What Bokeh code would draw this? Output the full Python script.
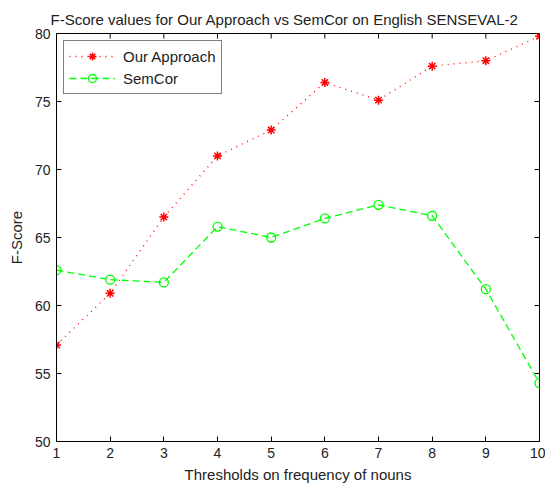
import math
from bokeh.plotting import figure
from bokeh.models import Range1d, Legend, LegendItem, FixedTicker
from bokeh.embed import file_html
from bokeh.resources import INLINE

thresholds = [1, 2, 3, 4, 5, 6, 7, 8, 9, 10]
our_approach = [57.1, 60.9, 66.5, 71.0, 72.9, 76.4, 75.1, 77.6, 78.0, 79.8]
semcor = [62.6, 61.9, 61.7, 65.8, 65.0, 66.4, 67.4, 66.6, 61.2, 54.3]
x_ticks = [1, 2, 3, 4, 5, 6, 7, 8, 9, 10]
y_ticks = [50, 55, 60, 65, 70, 75, 80]

FONT = "Liberation Sans"
TXT = "#222222"

p = figure(width=545, height=486, output_backend="svg", toolbar_location=None,
           x_range=Range1d(x_ticks[0], x_ticks[-1]), y_range=Range1d(y_ticks[0], y_ticks[-1]),
           title="F-Score values for Our Approach vs SemCor on English SENSEVAL-2",
           min_border_left=56, min_border_right=6, min_border_top=33, min_border_bottom=45)

p.title.text_font = FONT
p.title.text_font_size = "15px"
p.title.text_font_style = "normal"
p.title.align = "left"
p.title.offset = -6
p.title.standoff = 12
p.title.text_color = TXT

p.grid.visible = False
p.outline_line_color = "black"
p.outline_line_width = 1
p.background_fill_color = "white"
p.border_fill_color = "white"

for ax in p.xaxis + p.yaxis:
    ax.major_tick_in = 5
    ax.major_tick_out = 0
    ax.minor_tick_line_color = None
    ax.axis_line_color = "black"
    ax.major_tick_line_color = "black"
    ax.major_label_text_font = FONT
    ax.major_label_text_font_size = "14px"
    ax.major_label_text_color = TXT
    ax.axis_label_text_font = FONT
    ax.axis_label_text_font_size = "15px"
    ax.axis_label_text_font_style = "normal"
    ax.axis_label_text_color = TXT

p.xaxis.ticker = FixedTicker(ticks=x_ticks)
p.yaxis.ticker = FixedTicker(ticks=y_ticks)
p.xaxis.axis_label = "Thresholds on frequency of nouns"
p.yaxis.axis_label = "F-Score"
p.xaxis.major_label_standoff = 6
p.yaxis.major_label_standoff = 6
p.xaxis.axis_label_standoff = 5
p.yaxis.axis_label_standoff = 7

# MATLAB-style inward ticks on the top and right edges of the box (clipped to frame)
p.scatter(x_ticks, [y_ticks[-1]] * len(x_ticks), marker="dash", angle=math.pi / 2,
          size=10, line_color="black", line_width=1)
p.scatter([x_ticks[-1]] * len(y_ticks), y_ticks, marker="dash",
          size=10, line_color="black", line_width=1)

RED = "#ff0000"
GREEN = "#00ff00"
r1l = p.line(thresholds, our_approach, line_color=RED, line_dash="1 5", line_width=1.3)
r1m = p.scatter(thresholds, our_approach, marker="asterisk", size=9, line_color=RED, line_width=1.5)
r2l = p.line(thresholds, semcor, line_color=GREEN, line_dash="7 4", line_width=1.3)
r2m = p.scatter(thresholds, semcor, marker="circle", size=9, line_color=GREEN,
                fill_color=None, line_width=1.3)

legend = Legend(items=[LegendItem(label="Our Approach", renderers=[r1l, r1m]),
                       LegendItem(label="SemCor", renderers=[r2l, r2m])],
                location="top_left")
legend.margin = 7
legend.padding = 5
legend.spacing = 2
legend.glyph_width = 46
legend.glyph_height = 20
legend.label_text_font = FONT
legend.label_text_font_size = "15px"
legend.label_text_color = TXT
legend.label_standoff = 8
legend.border_line_color = "black"
legend.border_line_width = 1
legend.background_fill_color = "white"
p.add_layout(legend, "center")

open("out.html", "w").write(file_html(p, INLINE))
